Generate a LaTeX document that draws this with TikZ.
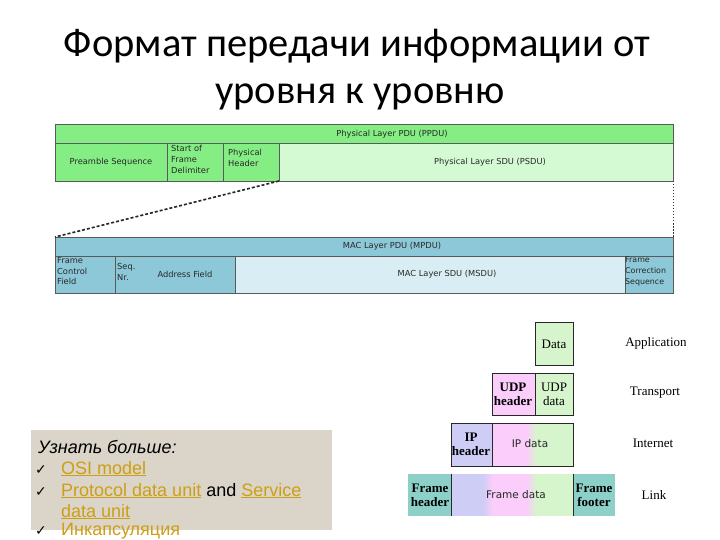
\documentclass[tikz,border=0pt]{standalone}
\usepackage{fontspec}
\setmainfont{Carlito}
\newfontfamily\dv{DejaVu Sans}
\newfontfamily\ar{Liberation Sans}
\newfontfamily\tm{Liberation Serif}
\newfontfamily\chk{DejaVu Sans}
\definecolor{edge}{RGB}{90,90,90}
\definecolor{phg}{RGB}{132,238,132}
\definecolor{phl}{RGB}{212,250,212}
\definecolor{macd}{RGB}{140,200,216}
\definecolor{macl}{RGB}{216,238,244}
\definecolor{txt}{RGB}{40,40,40}
\definecolor{gr}{RGB}{215,245,205}
\definecolor{pk}{RGB}{250,205,250}
\definecolor{lv}{RGB}{205,205,245}
\definecolor{tl}{RGB}{140,208,200}
\definecolor{dk}{RGB}{40,40,40}
\definecolor{boxgray}{RGB}{218,213,200}
\definecolor{lnk}{RGB}{206,158,20}
\begin{document}
\begin{tikzpicture}[x=1pt,y=-1pt,
  box/.style={draw=edge, line width=0.8pt, anchor=north west, inner sep=0pt, outer sep=0pt},
  small/.style={font=\dv\fontsize{8.3}{10.8}\selectfont, inner sep=0pt, text=txt},
  smallL/.style={small, align=left, anchor=north west},
  titlef/.style={font=\fontsize{40.5}{47}\selectfont, inner sep=0pt, anchor=base},
  bbox/.style={draw=dk, line width=0.8pt, anchor=north west, inner sep=0pt, outer sep=0pt},
  plain/.style={anchor=north west, inner sep=0pt, outer sep=0pt},
  blab/.style={font=\tm\fontsize{13}{14}\selectfont, inner sep=0pt, align=center},
  bhead/.style={blab, font=\tm\bfseries\fontsize{13}{14}\selectfont},
  slab/.style={font=\dv\fontsize{10.5}{12}\selectfont, inner sep=0pt, text=txt},
  rlab/.style={font=\tm\fontsize{13}{14}\selectfont, inner sep=0pt},
  more/.style={font=\ar\fontsize{18}{21}\selectfont, inner sep=0pt, anchor=base west},
  ck/.style={font=\chk\fontsize{14}{15}\selectfont, inner sep=0pt, anchor=base west},
  zoomline/.style={draw=black!85, line width=1.6pt, dash pattern=on 3pt off 2pt}
]
\useasboundingbox (0,0) rectangle (720,540);

% Title
\node[titlef] (t1) at (357,57) {Формат передачи информации от};
\node[titlef] (t2) at (360,104) {уровня к уровню};

% Physical layer
\node[box, fill=phg, minimum width=618, minimum height=19] (ppdu) at (55,124) {};
\node[box, fill=phg, minimum width=112, minimum height=38] (pre) at (55,143) {};
\node[box, fill=phg, minimum width=56, minimum height=38] (sfd) at (167,143) {};
\node[box, fill=phg, minimum width=56, minimum height=38] (phdr) at (223,143) {};
\node[box, fill=phl, minimum width=394, minimum height=38] (psdu) at (279,143) {};
\node[small] (ppdut) at (392,134) {Physical Layer PDU (PPDU)};
\node[small] (pret) at (111,162) {Preamble Sequence};
\node[smallL] (sfdt) at (171,145) {Start of\\Frame\\Delimiter};
\node[smallL] (phdrt) at (228,149) {Physical\\Header};
\node[small] (psdut) at (490,162) {Physical Layer SDU (PSDU)};

% MAC layer
\node[box, fill=macd, minimum width=618, minimum height=19] (mpdu) at (55,237) {};
\node[box, fill=macd, minimum width=60, minimum height=37] (fcf) at (55,256) {};
\node[box, fill=macd, minimum width=120, minimum height=37] (addr) at (115,256) {};
\node[box, fill=macl, minimum width=390, minimum height=37] (msdu) at (235,256) {};
\node[box, fill=macd, minimum width=48, minimum height=37] (fcs) at (625,256) {};
\node[small] (mpdut) at (392,246) {MAC Layer PDU (MPDU)};
\node[smallL] (fcft) at (57,257) {Frame\\Control\\Field};
\node[smallL] (seqt) at (117,263) {Seq.\\Nr.};
\node[small] (addrt) at (185,274) {Address Field};
\node[small] (msdut) at (447,274) {MAC Layer SDU (MSDU)};
\node[smallL, font=\dv\fontsize{7.9}{10.8}\selectfont] (fcst) at (625,257) {Frame\\Correction\\Sequence};

% zoom connectors
\draw[zoomline] (phdr.south east) -- (mpdu.north west);
\draw[draw=black!80, line width=0.8pt, dash pattern=on 1.5pt off 1.5pt] (psdu.south east) -- (mpdu.north east);

% Encapsulation diagram
\node[bbox, fill=gr, minimum width=38, minimum height=43] (data) at (535,322) {};
\node[bbox, fill=pk, minimum width=43, minimum height=42] (udph) at (492,373) {};
\node[bbox, fill=gr, minimum width=38, minimum height=42] (udpd) at (535,373) {};
\node[bbox, fill=lv, minimum width=41, minimum height=43] (iph) at (451,423) {};
\node[plain, minimum width=81, minimum height=43] (ipd) at (492,423) {};
\node[plain, fill=tl, minimum width=43, minimum height=42] (fh) at (408,474) {};
\node[plain, minimum width=122, minimum height=42] (fd) at (451,474) {};
\node[plain, fill=tl, minimum width=42, minimum height=42] (ff) at (573,474) {};
% IP data fill (pink -> green)
\fill[pk] (492,423) rectangle (528,466);
\fill[pk!80!gr] (527.5,423) rectangle (530.5,466);
\fill[pk!60!gr] (530,423) rectangle (532.5,466);
\fill[pk!40!gr] (532,423) rectangle (534.5,466);
\fill[pk!20!gr] (534,423) rectangle (536.5,466);
\fill[gr] (536,423) rectangle (573,466);
\draw[dk, line width=0.8pt] (ipd.north west) rectangle (ipd.south east);
% Frame data fill (lavender -> pink -> green)
\fill[lv] (451,474) rectangle (484,516);
\fill[lv!80!pk] (483.5,474) rectangle (486.5,516);
\fill[lv!60!pk] (486,474) rectangle (488.5,516);
\fill[lv!40!pk] (488,474) rectangle (490.5,516);
\fill[lv!20!pk] (490,474) rectangle (492.5,516);
\fill[pk] (492,474) rectangle (528,516);
\fill[pk!80!gr] (527.5,474) rectangle (530.5,516);
\fill[pk!60!gr] (530,474) rectangle (532.5,516);
\fill[pk!40!gr] (532,474) rectangle (534.5,516);
\fill[pk!20!gr] (534,474) rectangle (536.5,516);
\fill[gr] (536,474) rectangle (573,516);
\draw[dk, line width=0.8pt] (fd.north west) -- (fd.south west);
\draw[dk, line width=0.8pt] (fd.north east) -- (fd.south east);

\node[blab] (datat) at (554,344) {Data};
\node[bhead] (udpht) at (513,394) {UDP\\header};
\node[blab] (udpdt) at (554,394) {UDP\\data};
\node[bhead] (ipht) at (471,444) {IP\\header};
\node[slab] (ipdt) at (530,444) {IP data};
\node[bhead] (fht) at (430,495) {Frame\\header};
\node[slab] (fdt) at (516,495) {Frame data};
\node[bhead] (fft) at (594,495) {Frame\\footer};

\node[rlab] (app) at (656,343) {Application};
\node[rlab] (trn) at (655,393) {Transport};
\node[rlab] (int) at (653,443) {Internet};
\node[rlab] (lnk) at (654,495) {Link};

% Learn more box
\node[plain, fill=boxgray, minimum width=301, minimum height=100] (morebox) at (31,430) {};
\node[more] (m0) at (38,453) {\itshape Узнать больше:};
\node[ck] (c1) at (35,474) {✓};
\node[more] (m1) at (61,474) {\textcolor{lnk}{\underline{OSI model}}};
\node[ck] (c2) at (35,496) {✓};
\node[more] (m2) at (61,496) {\textcolor{lnk}{\underline{Protocol data unit}} and \textcolor{lnk}{\underline{Service}}};
\node[more] (m3) at (61,517) {\textcolor{lnk}{\underline{data unit}}};
\node[ck] (c3) at (35,535) {✓};
\node[more] (m4) at (61,535) {\textcolor{lnk}{\underline{Инкапсуляция}}};
\end{tikzpicture}
\end{document}
